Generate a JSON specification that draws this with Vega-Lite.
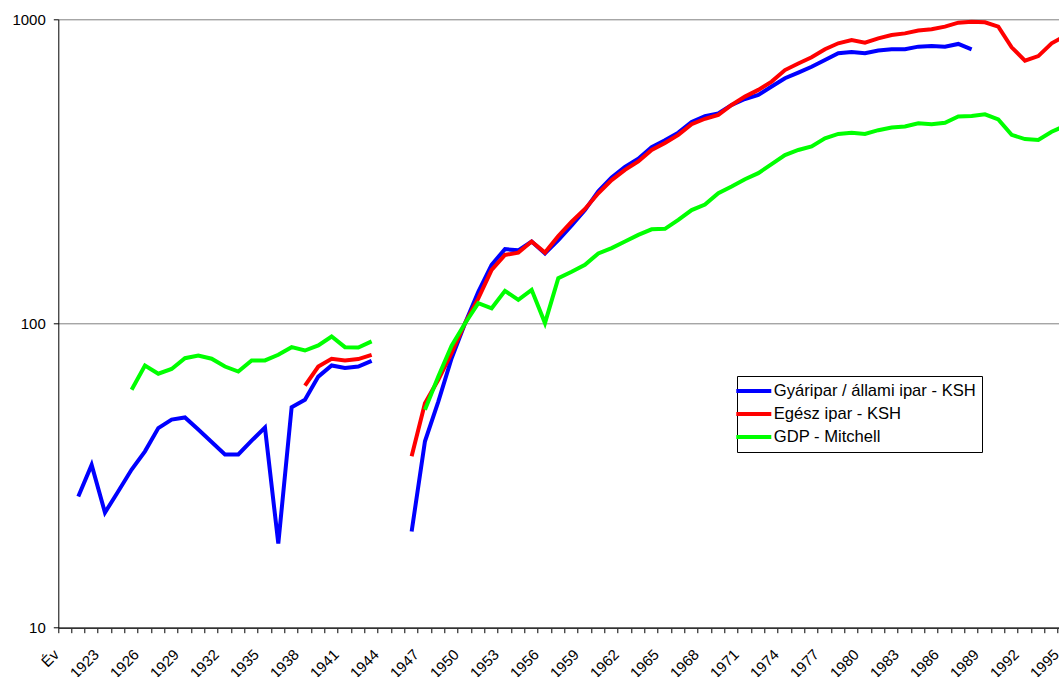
{
  "$schema": "https://vega.github.io/schema/vega-lite/v6.json",
  "autosize": "none",
  "width": 1000.7,
  "height": 608.4,
  "padding": {"left": 58.3, "top": 19.3, "right": 0, "bottom": 49.3},
  "background": "white",
  "config": {
    "view": {"stroke": null},
    "font": "Liberation Sans"
  },
  "data": {
    "values": [
      {"year": "1921", "s": "Gyáripar / állami ipar - KSH", "seg": "a", "v": 27.0},
      {"year": "1922", "s": "Gyáripar / állami ipar - KSH", "seg": "a", "v": 34.3},
      {"year": "1923", "s": "Gyáripar / állami ipar - KSH", "seg": "a", "v": 23.9},
      {"year": "1924", "s": "Gyáripar / állami ipar - KSH", "seg": "a", "v": 28.1},
      {"year": "1925", "s": "Gyáripar / állami ipar - KSH", "seg": "a", "v": 33.1},
      {"year": "1926", "s": "Gyáripar / állami ipar - KSH", "seg": "a", "v": 38.0},
      {"year": "1927", "s": "Gyáripar / állami ipar - KSH", "seg": "a", "v": 45.3},
      {"year": "1928", "s": "Gyáripar / állami ipar - KSH", "seg": "a", "v": 48.3},
      {"year": "1929", "s": "Gyáripar / állami ipar - KSH", "seg": "a", "v": 49.1},
      {"year": "1930", "s": "Gyáripar / állami ipar - KSH", "seg": "a", "v": 44.8},
      {"year": "1931", "s": "Gyáripar / állami ipar - KSH", "seg": "a", "v": 40.8},
      {"year": "1932", "s": "Gyáripar / állami ipar - KSH", "seg": "a", "v": 37.1},
      {"year": "1933", "s": "Gyáripar / állami ipar - KSH", "seg": "a", "v": 37.1},
      {"year": "1934", "s": "Gyáripar / állami ipar - KSH", "seg": "a", "v": 41.2},
      {"year": "1935", "s": "Gyáripar / állami ipar - KSH", "seg": "a", "v": 45.5},
      {"year": "1936", "s": "Gyáripar / állami ipar - KSH", "seg": "a", "v": 18.9},
      {"year": "1937", "s": "Gyáripar / állami ipar - KSH", "seg": "a", "v": 53.1},
      {"year": "1938", "s": "Gyáripar / állami ipar - KSH", "seg": "a", "v": 56.1},
      {"year": "1939", "s": "Gyáripar / állami ipar - KSH", "seg": "a", "v": 66.9},
      {"year": "1940", "s": "Gyáripar / állami ipar - KSH", "seg": "a", "v": 72.8},
      {"year": "1941", "s": "Gyáripar / állami ipar - KSH", "seg": "a", "v": 71.4},
      {"year": "1942", "s": "Gyáripar / állami ipar - KSH", "seg": "a", "v": 72.2},
      {"year": "1943", "s": "Gyáripar / állami ipar - KSH", "seg": "a", "v": 75.4},
      {"year": "1946", "s": "Gyáripar / állami ipar - KSH", "seg": "b", "v": 20.7},
      {"year": "1947", "s": "Gyáripar / állami ipar - KSH", "seg": "b", "v": 41.0},
      {"year": "1948", "s": "Gyáripar / állami ipar - KSH", "seg": "b", "v": 55.4},
      {"year": "1949", "s": "Gyáripar / állami ipar - KSH", "seg": "b", "v": 76.9},
      {"year": "1950", "s": "Gyáripar / állami ipar - KSH", "seg": "b", "v": 100},
      {"year": "1951", "s": "Gyáripar / állami ipar - KSH", "seg": "b", "v": 127},
      {"year": "1952", "s": "Gyáripar / állami ipar - KSH", "seg": "b", "v": 156},
      {"year": "1953", "s": "Gyáripar / állami ipar - KSH", "seg": "b", "v": 175.6},
      {"year": "1954", "s": "Gyáripar / állami ipar - KSH", "seg": "b", "v": 174},
      {"year": "1955", "s": "Gyáripar / állami ipar - KSH", "seg": "b", "v": 186},
      {"year": "1956", "s": "Gyáripar / állami ipar - KSH", "seg": "b", "v": 170},
      {"year": "1957", "s": "Gyáripar / állami ipar - KSH", "seg": "b", "v": 188},
      {"year": "1958", "s": "Gyáripar / állami ipar - KSH", "seg": "b", "v": 210},
      {"year": "1959", "s": "Gyáripar / állami ipar - KSH", "seg": "b", "v": 236},
      {"year": "1960", "s": "Gyáripar / állami ipar - KSH", "seg": "b", "v": 272},
      {"year": "1961", "s": "Gyáripar / állami ipar - KSH", "seg": "b", "v": 302},
      {"year": "1962", "s": "Gyáripar / állami ipar - KSH", "seg": "b", "v": 327},
      {"year": "1963", "s": "Gyáripar / állami ipar - KSH", "seg": "b", "v": 348},
      {"year": "1964", "s": "Gyáripar / állami ipar - KSH", "seg": "b", "v": 380},
      {"year": "1965", "s": "Gyáripar / állami ipar - KSH", "seg": "b", "v": 400},
      {"year": "1966", "s": "Gyáripar / állami ipar - KSH", "seg": "b", "v": 424},
      {"year": "1967", "s": "Gyáripar / állami ipar - KSH", "seg": "b", "v": 460},
      {"year": "1968", "s": "Gyáripar / állami ipar - KSH", "seg": "b", "v": 480},
      {"year": "1969", "s": "Gyáripar / állami ipar - KSH", "seg": "b", "v": 490},
      {"year": "1970", "s": "Gyáripar / állami ipar - KSH", "seg": "b", "v": 523},
      {"year": "1971", "s": "Gyáripar / állami ipar - KSH", "seg": "b", "v": 547},
      {"year": "1972", "s": "Gyáripar / állami ipar - KSH", "seg": "b", "v": 564},
      {"year": "1973", "s": "Gyáripar / állami ipar - KSH", "seg": "b", "v": 601},
      {"year": "1974", "s": "Gyáripar / állami ipar - KSH", "seg": "b", "v": 640},
      {"year": "1975", "s": "Gyáripar / állami ipar - KSH", "seg": "b", "v": 668},
      {"year": "1976", "s": "Gyáripar / állami ipar - KSH", "seg": "b", "v": 698},
      {"year": "1977", "s": "Gyáripar / állami ipar - KSH", "seg": "b", "v": 735},
      {"year": "1978", "s": "Gyáripar / állami ipar - KSH", "seg": "b", "v": 773},
      {"year": "1979", "s": "Gyáripar / állami ipar - KSH", "seg": "b", "v": 781},
      {"year": "1980", "s": "Gyáripar / állami ipar - KSH", "seg": "b", "v": 773},
      {"year": "1981", "s": "Gyáripar / állami ipar - KSH", "seg": "b", "v": 790},
      {"year": "1982", "s": "Gyáripar / állami ipar - KSH", "seg": "b", "v": 797},
      {"year": "1983", "s": "Gyáripar / állami ipar - KSH", "seg": "b", "v": 797},
      {"year": "1984", "s": "Gyáripar / állami ipar - KSH", "seg": "b", "v": 813},
      {"year": "1985", "s": "Gyáripar / állami ipar - KSH", "seg": "b", "v": 817},
      {"year": "1986", "s": "Gyáripar / állami ipar - KSH", "seg": "b", "v": 813},
      {"year": "1987", "s": "Gyáripar / állami ipar - KSH", "seg": "b", "v": 830},
      {"year": "1988", "s": "Gyáripar / állami ipar - KSH", "seg": "b", "v": 797},
      {"year": "1938", "s": "Egész ipar - KSH", "seg": "a", "v": 62.5},
      {"year": "1939", "s": "Egész ipar - KSH", "seg": "a", "v": 72.2},
      {"year": "1940", "s": "Egész ipar - KSH", "seg": "a", "v": 76.6},
      {"year": "1941", "s": "Egész ipar - KSH", "seg": "a", "v": 75.6},
      {"year": "1942", "s": "Egész ipar - KSH", "seg": "a", "v": 76.4},
      {"year": "1943", "s": "Egész ipar - KSH", "seg": "a", "v": 78.9},
      {"year": "1946", "s": "Egész ipar - KSH", "seg": "b", "v": 36.6},
      {"year": "1947", "s": "Egész ipar - KSH", "seg": "b", "v": 54.7},
      {"year": "1948", "s": "Egész ipar - KSH", "seg": "b", "v": 65.3},
      {"year": "1949", "s": "Egész ipar - KSH", "seg": "b", "v": 80},
      {"year": "1950", "s": "Egész ipar - KSH", "seg": "b", "v": 100},
      {"year": "1951", "s": "Egész ipar - KSH", "seg": "b", "v": 121},
      {"year": "1952", "s": "Egész ipar - KSH", "seg": "b", "v": 150},
      {"year": "1953", "s": "Egész ipar - KSH", "seg": "b", "v": 168},
      {"year": "1954", "s": "Egész ipar - KSH", "seg": "b", "v": 171},
      {"year": "1955", "s": "Egész ipar - KSH", "seg": "b", "v": 186},
      {"year": "1956", "s": "Egész ipar - KSH", "seg": "b", "v": 171},
      {"year": "1957", "s": "Egész ipar - KSH", "seg": "b", "v": 194},
      {"year": "1958", "s": "Egész ipar - KSH", "seg": "b", "v": 216},
      {"year": "1959", "s": "Egész ipar - KSH", "seg": "b", "v": 238},
      {"year": "1960", "s": "Egész ipar - KSH", "seg": "b", "v": 268},
      {"year": "1961", "s": "Egész ipar - KSH", "seg": "b", "v": 296},
      {"year": "1962", "s": "Egész ipar - KSH", "seg": "b", "v": 320},
      {"year": "1963", "s": "Egész ipar - KSH", "seg": "b", "v": 341},
      {"year": "1964", "s": "Egész ipar - KSH", "seg": "b", "v": 372},
      {"year": "1965", "s": "Egész ipar - KSH", "seg": "b", "v": 392},
      {"year": "1966", "s": "Egész ipar - KSH", "seg": "b", "v": 417},
      {"year": "1967", "s": "Egész ipar - KSH", "seg": "b", "v": 452},
      {"year": "1968", "s": "Egész ipar - KSH", "seg": "b", "v": 471},
      {"year": "1969", "s": "Egész ipar - KSH", "seg": "b", "v": 485},
      {"year": "1970", "s": "Egész ipar - KSH", "seg": "b", "v": 523},
      {"year": "1971", "s": "Egész ipar - KSH", "seg": "b", "v": 557},
      {"year": "1972", "s": "Egész ipar - KSH", "seg": "b", "v": 586},
      {"year": "1973", "s": "Egész ipar - KSH", "seg": "b", "v": 624},
      {"year": "1974", "s": "Egész ipar - KSH", "seg": "b", "v": 681},
      {"year": "1975", "s": "Egész ipar - KSH", "seg": "b", "v": 716},
      {"year": "1976", "s": "Egész ipar - KSH", "seg": "b", "v": 750},
      {"year": "1977", "s": "Egész ipar - KSH", "seg": "b", "v": 797},
      {"year": "1978", "s": "Egész ipar - KSH", "seg": "b", "v": 834},
      {"year": "1979", "s": "Egész ipar - KSH", "seg": "b", "v": 855},
      {"year": "1980", "s": "Egész ipar - KSH", "seg": "b", "v": 838},
      {"year": "1981", "s": "Egész ipar - KSH", "seg": "b", "v": 866},
      {"year": "1982", "s": "Egész ipar - KSH", "seg": "b", "v": 888},
      {"year": "1983", "s": "Egész ipar - KSH", "seg": "b", "v": 899},
      {"year": "1984", "s": "Egész ipar - KSH", "seg": "b", "v": 918},
      {"year": "1985", "s": "Egész ipar - KSH", "seg": "b", "v": 927},
      {"year": "1986", "s": "Egész ipar - KSH", "seg": "b", "v": 946},
      {"year": "1987", "s": "Egész ipar - KSH", "seg": "b", "v": 975},
      {"year": "1988", "s": "Egész ipar - KSH", "seg": "b", "v": 982},
      {"year": "1989", "s": "Egész ipar - KSH", "seg": "b", "v": 978},
      {"year": "1990", "s": "Egész ipar - KSH", "seg": "b", "v": 946},
      {"year": "1991", "s": "Egész ipar - KSH", "seg": "b", "v": 809},
      {"year": "1992", "s": "Egész ipar - KSH", "seg": "b", "v": 731},
      {"year": "1993", "s": "Egész ipar - KSH", "seg": "b", "v": 757},
      {"year": "1994", "s": "Egész ipar - KSH", "seg": "b", "v": 834},
      {"year": "1995", "s": "Egész ipar - KSH", "seg": "b", "v": 881},
      {"year": "1925", "s": "GDP - Mitchell", "seg": "a", "v": 60.6},
      {"year": "1926", "s": "GDP - Mitchell", "seg": "a", "v": 72.8},
      {"year": "1927", "s": "GDP - Mitchell", "seg": "a", "v": 68.4},
      {"year": "1928", "s": "GDP - Mitchell", "seg": "a", "v": 70.9},
      {"year": "1929", "s": "GDP - Mitchell", "seg": "a", "v": 76.9},
      {"year": "1930", "s": "GDP - Mitchell", "seg": "a", "v": 78.5},
      {"year": "1931", "s": "GDP - Mitchell", "seg": "a", "v": 76.6},
      {"year": "1932", "s": "GDP - Mitchell", "seg": "a", "v": 72.2},
      {"year": "1933", "s": "GDP - Mitchell", "seg": "a", "v": 69.5},
      {"year": "1934", "s": "GDP - Mitchell", "seg": "a", "v": 75.6},
      {"year": "1935", "s": "GDP - Mitchell", "seg": "a", "v": 75.6},
      {"year": "1936", "s": "GDP - Mitchell", "seg": "a", "v": 78.9},
      {"year": "1937", "s": "GDP - Mitchell", "seg": "a", "v": 83.6},
      {"year": "1938", "s": "GDP - Mitchell", "seg": "a", "v": 81.5},
      {"year": "1939", "s": "GDP - Mitchell", "seg": "a", "v": 84.7},
      {"year": "1940", "s": "GDP - Mitchell", "seg": "a", "v": 90.6},
      {"year": "1941", "s": "GDP - Mitchell", "seg": "a", "v": 83.6},
      {"year": "1942", "s": "GDP - Mitchell", "seg": "a", "v": 83.4},
      {"year": "1943", "s": "GDP - Mitchell", "seg": "a", "v": 87.3},
      {"year": "1947", "s": "GDP - Mitchell", "seg": "b", "v": 52.1},
      {"year": "1948", "s": "GDP - Mitchell", "seg": "b", "v": 67},
      {"year": "1949", "s": "GDP - Mitchell", "seg": "b", "v": 84.5},
      {"year": "1950", "s": "GDP - Mitchell", "seg": "b", "v": 100},
      {"year": "1951", "s": "GDP - Mitchell", "seg": "b", "v": 116.7},
      {"year": "1952", "s": "GDP - Mitchell", "seg": "b", "v": 112.2},
      {"year": "1953", "s": "GDP - Mitchell", "seg": "b", "v": 128},
      {"year": "1954", "s": "GDP - Mitchell", "seg": "b", "v": 119.6},
      {"year": "1955", "s": "GDP - Mitchell", "seg": "b", "v": 129},
      {"year": "1956", "s": "GDP - Mitchell", "seg": "b", "v": 100.3},
      {"year": "1957", "s": "GDP - Mitchell", "seg": "b", "v": 141},
      {"year": "1958", "s": "GDP - Mitchell", "seg": "b", "v": 148},
      {"year": "1959", "s": "GDP - Mitchell", "seg": "b", "v": 156},
      {"year": "1960", "s": "GDP - Mitchell", "seg": "b", "v": 170},
      {"year": "1961", "s": "GDP - Mitchell", "seg": "b", "v": 177},
      {"year": "1962", "s": "GDP - Mitchell", "seg": "b", "v": 186},
      {"year": "1963", "s": "GDP - Mitchell", "seg": "b", "v": 195.6},
      {"year": "1964", "s": "GDP - Mitchell", "seg": "b", "v": 204},
      {"year": "1965", "s": "GDP - Mitchell", "seg": "b", "v": 204.7},
      {"year": "1966", "s": "GDP - Mitchell", "seg": "b", "v": 219},
      {"year": "1967", "s": "GDP - Mitchell", "seg": "b", "v": 236},
      {"year": "1968", "s": "GDP - Mitchell", "seg": "b", "v": 246},
      {"year": "1969", "s": "GDP - Mitchell", "seg": "b", "v": 268},
      {"year": "1970", "s": "GDP - Mitchell", "seg": "b", "v": 282},
      {"year": "1971", "s": "GDP - Mitchell", "seg": "b", "v": 298},
      {"year": "1972", "s": "GDP - Mitchell", "seg": "b", "v": 312},
      {"year": "1973", "s": "GDP - Mitchell", "seg": "b", "v": 334},
      {"year": "1974", "s": "GDP - Mitchell", "seg": "b", "v": 358},
      {"year": "1975", "s": "GDP - Mitchell", "seg": "b", "v": 372},
      {"year": "1976", "s": "GDP - Mitchell", "seg": "b", "v": 382},
      {"year": "1977", "s": "GDP - Mitchell", "seg": "b", "v": 406},
      {"year": "1978", "s": "GDP - Mitchell", "seg": "b", "v": 420},
      {"year": "1979", "s": "GDP - Mitchell", "seg": "b", "v": 424},
      {"year": "1980", "s": "GDP - Mitchell", "seg": "b", "v": 420},
      {"year": "1981", "s": "GDP - Mitchell", "seg": "b", "v": 432},
      {"year": "1982", "s": "GDP - Mitchell", "seg": "b", "v": 441},
      {"year": "1983", "s": "GDP - Mitchell", "seg": "b", "v": 444},
      {"year": "1984", "s": "GDP - Mitchell", "seg": "b", "v": 455},
      {"year": "1985", "s": "GDP - Mitchell", "seg": "b", "v": 452},
      {"year": "1986", "s": "GDP - Mitchell", "seg": "b", "v": 457},
      {"year": "1987", "s": "GDP - Mitchell", "seg": "b", "v": 479},
      {"year": "1988", "s": "GDP - Mitchell", "seg": "b", "v": 481},
      {"year": "1989", "s": "GDP - Mitchell", "seg": "b", "v": 487},
      {"year": "1990", "s": "GDP - Mitchell", "seg": "b", "v": 469},
      {"year": "1991", "s": "GDP - Mitchell", "seg": "b", "v": 417},
      {"year": "1992", "s": "GDP - Mitchell", "seg": "b", "v": 404},
      {"year": "1993", "s": "GDP - Mitchell", "seg": "b", "v": 401},
      {"year": "1994", "s": "GDP - Mitchell", "seg": "b", "v": 427},
      {"year": "1995", "s": "GDP - Mitchell", "seg": "b", "v": 446}
    ]
  },
  "mark": {"type": "line", "strokeWidth": 4, "clip": true},
  "encoding": {
    "x": {
      "field": "year",
      "type": "ordinal",
      "bandPosition": 0.5,
      "sort": null,
      "scale": {
        "type": "band",
        "domain": ["Év","1921","1922","1923","1924","1925","1926","1927","1928","1929","1930","1931","1932","1933","1934","1935","1936","1937","1938","1939","1940","1941","1942","1943","1944","1945","1946","1947","1948","1949","1950","1951","1952","1953","1954","1955","1956","1957","1958","1959","1960","1961","1962","1963","1964","1965","1966","1967","1968","1969","1970","1971","1972","1973","1974","1975","1976","1977","1978","1979","1980","1981","1982","1983","1984","1985","1986","1987","1988","1989","1990","1991","1992","1993","1994","1995"],
        "range": [0, 1013.33],
        "paddingInner": 0,
        "paddingOuter": 0
      },
      "axis": {
        "title": null,
        "bandPosition": 0,
        "grid": false,
        "domainColor": "#333333",
        "domainWidth": 1.5,
        "tickColor": "#000000",
        "tickSize": 5,
        "tickWidth": 1,
        "labelAngle": -45,
        "labelAlign": "right",
        "labelBaseline": "top",
        "labelPadding": 14,
        "labelOffset": -13.5,
        "labelOverlap": false,
        "labelBound": false,
        "labelFlush": false,
        "labelFont": "Liberation Sans",
        "labelFontSize": 15,
        "labelColor": "#000000",
        "labelExpr": "datum.value == 'Év' || (toNumber(datum.value) - 1920) % 3 == 0 ? datum.value : ''"
      }
    },
    "y": {
      "field": "v",
      "type": "quantitative",
      "scale": {"type": "log", "domain": [10, 1000], "nice": false},
      "axis": {
        "title": null,
        "values": [10, 100, 1000],
        "grid": true,
        "gridColor": "#808080",
        "gridWidth": 1,
        "domainColor": "#000000",
        "domainWidth": 1,
        "tickColor": "#000000",
        "tickSize": 5,
        "labelPadding": 8,
        "labelFont": "Liberation Sans",
        "labelFontSize": 15,
        "labelColor": "#000000",
        "format": "d"
      }
    },
    "color": {
      "field": "s",
      "type": "nominal",
      "scale": {
        "domain": ["Gyáripar / állami ipar - KSH", "Egész ipar - KSH", "GDP - Mitchell"],
        "range": ["#0000ff", "#ff0000", "#00ff00"]
      },
      "legend": {
        "title": null,
        "orient": "none",
        "legendX": 678.7,
        "legendY": 356.7,
        "strokeColor": "#000000",
        "fillColor": "#ffffff",
        "padding": 6,
        "symbolType": "M-2.5,0H2.5",
        "symbolSize": 196,
        "symbolStrokeWidth": 4,
        "symbolOffset": 1.8,
        "labelFont": "Liberation Sans",
        "labelFontSize": 16.6,
        "labelColor": "#000000",
        "labelOffset": 11,
        "labelLimit": 0,
        "rowPadding": 5
      }
    },
    "detail": {"field": "seg", "type": "nominal"}
  }
}
